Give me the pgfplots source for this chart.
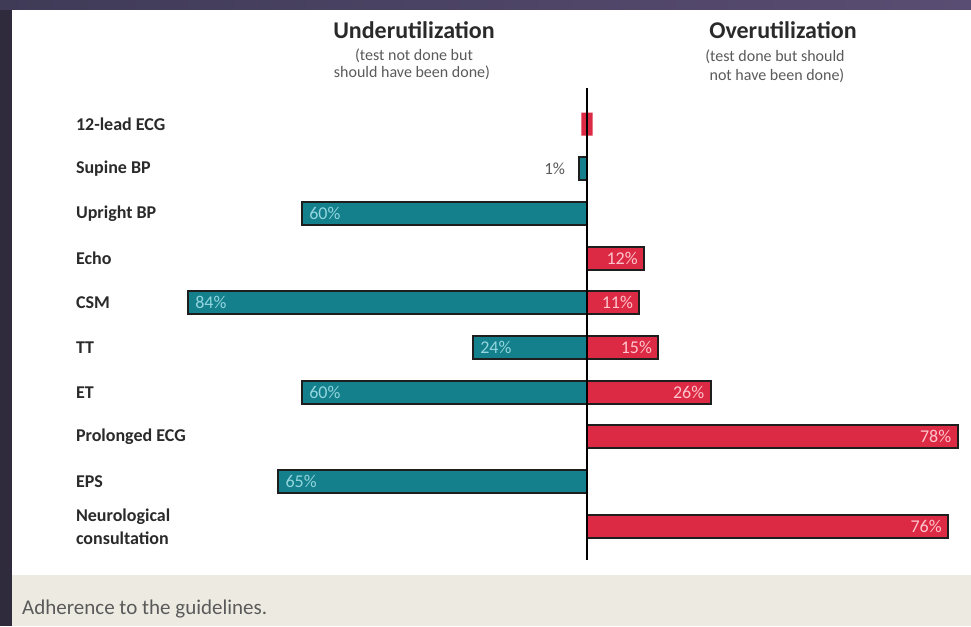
\documentclass[border=0pt]{standalone}
\usepackage{pgfplots}
\pgfplotsset{compat=1.18}
\usepackage{pgfplotstable}
\usepackage{fontspec}
\setmainfont{Carlito}
\definecolor{bgdark}{HTML}{2F2B3D}
\definecolor{bgtop}{HTML}{3F3B57}
\definecolor{bgtop2}{HTML}{5A4D73}
\definecolor{beige}{HTML}{EDEAE1}
\definecolor{tealbar}{HTML}{13808C}
\definecolor{redbar}{HTML}{DC2A44}
\definecolor{edge}{HTML}{1E1E1E}
\definecolor{tealtxt}{HTML}{93D6DF}
\definecolor{redtxt}{HTML}{FFC4CC}
\definecolor{labtxt}{HTML}{2A2A2A}
\definecolor{graytxt}{HTML}{5A5A5A}

% Underutilization (test not done but should have been done)
\pgfplotstableread{
row val
2 60
4 84
5 24
6 60
8 65
}\undertab
% Overutilization (test done but should not have been done)
\pgfplotstableread{
row val
3 12
4 11
5 15
6 26
7 78
9 76
}\overtab

\begin{document}
\begin{tikzpicture}
\useasboundingbox (0,0) rectangle (971pt,626pt);
\fill[bgdark] (0,0) rectangle (971pt,626pt);
\shade[left color=bgtop, right color=bgtop2] (0,616pt) rectangle (971pt,626pt);
\fill[white] (12pt,51pt) rectangle (971pt,616pt);
\fill[beige] (12pt,0) rectangle (971pt,51pt);
\node[anchor=base west, inner sep=0, text=graytxt, font=\fontsize{21}{24}\selectfont] at (22pt,12pt) {Adherence to the guidelines.};

\node[anchor=base, inner sep=0, text=labtxt, font=\bfseries\fontsize{24}{28}\selectfont] at (414pt,587pt) {Underutilization};
\node[anchor=base, inner sep=0, text=graytxt, font=\fontsize{16}{18}\selectfont] at (414pt,565pt) {(test not done but};
\node[anchor=base, inner sep=0, text=graytxt, font=\fontsize{16}{18}\selectfont] at (412pt,548pt) {should have been done)};
\node[anchor=base, inner sep=0, text=labtxt, font=\bfseries\fontsize{24}{28}\selectfont] at (783pt,587pt) {Overutilization};
\node[anchor=base, inner sep=0, text=graytxt, font=\fontsize{16}{18}\selectfont] at (775pt,564pt) {(test done but should};
\node[anchor=base, inner sep=0, text=graytxt, font=\fontsize{16}{18}\selectfont] at (777pt,545pt) {not have been done)};

\begin{axis}[
  at={(563.25pt,300.85pt)}, anchor=center,
  scale only axis, width=807.5pt, height=469.3pt,
  xmin=-90, xmax=80, ymin=-0.75, ymax=9.75, y dir=reverse,
  axis line style={draw=none}, major tick length=0pt,
  xtick=\empty,
  ytick={0,1,2,3,4,5,6,7,8,9},
  yticklabels={12-lead ECG, Supine BP, Upright BP, Echo, CSM, TT, ET, Prolonged ECG, EPS, {Neurological\\consultation}},
  yticklabel style={anchor=west, xshift=-87pt, align=left, text=labtxt, font=\bfseries\fontsize{18}{23}\selectfont},
  /pgf/number format/assume math mode=true,
  bar shift=0pt,
  clip=false,
]
% 12-lead ECG marker (about 0%)
\addplot[xbar, bar width=23pt, fill=redbar, draw=none] coordinates {(1.2,0) (-1.2,0)};
% Supine BP 1%
\addplot[xbar, bar width=23pt, fill=tealbar, draw=edge, line width=2pt,
  point meta=explicit, nodes near coords={\pgfmathprintnumber{\pgfplotspointmeta}\%},
  every node near coord/.append style={anchor=east, xshift=-10pt, text=graytxt, font=\fontsize{17}{17}\selectfont}]
  coordinates {(-1.6,1) [1]};
\addplot[xbar, bar width=23pt, fill=tealbar, draw=edge, line width=2pt,
  point meta=explicit, nodes near coords={\pgfmathprintnumber{\pgfplotspointmeta}\%},
  every node near coord/.append style={anchor=west, xshift=3pt, text=tealtxt, font=\fontsize{18}{18}\selectfont}]
  table[x expr=-\thisrow{val}, y=row, meta=val] {\undertab};
\addplot[xbar, bar width=23pt, fill=redbar, draw=edge, line width=2pt,
  point meta=explicit, nodes near coords={\pgfmathprintnumber{\pgfplotspointmeta}\%},
  every node near coord/.append style={anchor=east, xshift=-2pt, text=redtxt, font=\fontsize{18}{18}\selectfont}]
  table[x=val, y=row, meta=val] {\overtab};
\draw[black, line width=1.8pt] (axis cs:0,-0.8) -- (axis cs:0,9.75);
\end{axis}
\end{tikzpicture}
\end{document}
